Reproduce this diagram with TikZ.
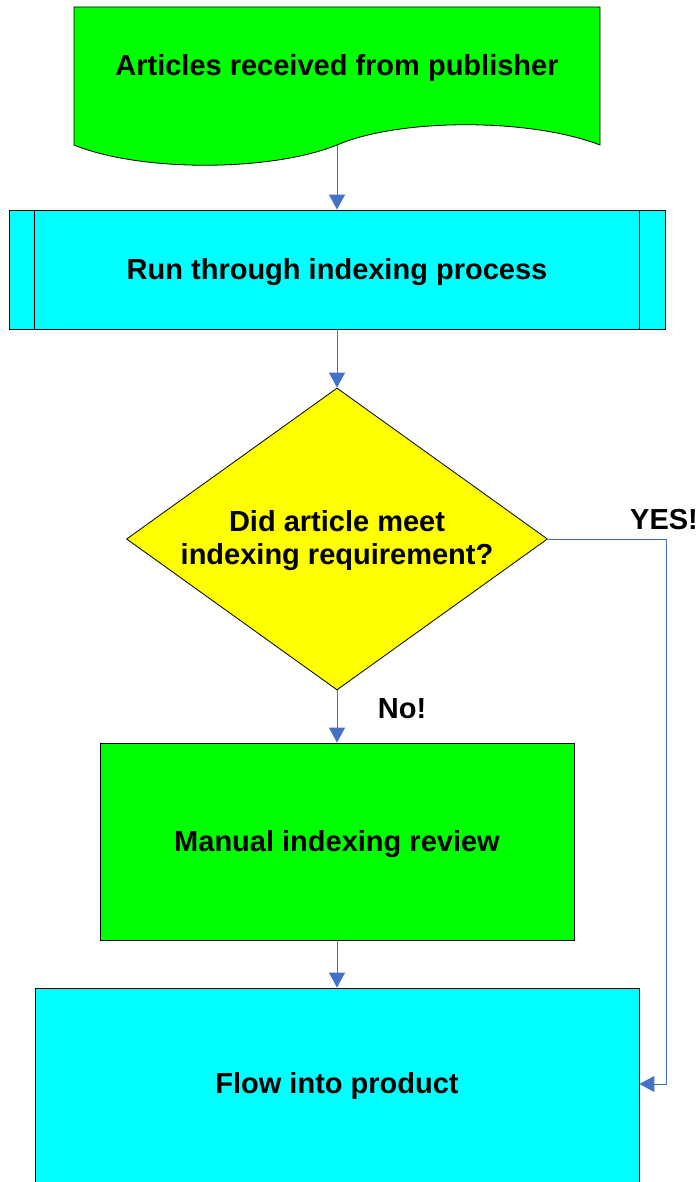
\documentclass[tikz,border=0pt]{standalone}
\usepackage{fontspec}
\setmainfont{Liberation Sans}
\usetikzlibrary{shapes.geometric,arrows.meta}
\definecolor{arrowblue}{RGB}{68,114,196}
\definecolor{fgreen}{RGB}{0,255,0}
\definecolor{fcyan}{RGB}{0,255,255}
\definecolor{fyellow}{RGB}{255,255,0}
\newcommand{\dnb}[2]{\raisebox{#1}[\height][\depth]{\begin{tabular}{@{}c@{}}#2\end{tabular}}}
\tikzset{
  lbl/.style={font=\fontsize{29}{33}\selectfont\bfseries, align=center},
  boxshape/.style={lbl, draw=black, line width=0.8pt, inner sep=0pt},
  conn/.style={draw=arrowblue, line width=1pt, -{Triangle[width=16pt,length=15pt]}},
}
\begin{document}
\begin{tikzpicture}[x=1pt,y=-1pt]
\useasboundingbox (0,0) rectangle (700,1182);
\clip (0,0) rectangle (700,1182);
% document shape
\draw[fill=fgreen, draw=black, line width=0.8pt]
  (74,7) -- (600,7) -- (600,145)
  .. controls (530,118) and (400,118) .. (337,145)
  .. controls (270,172) and (140,172) .. (74,145) -- cycle;
\node[lbl] (doc) at (337,68) {Articles received from publisher};
\coordinate (docb) at (337,145);
% predefined process
\node[boxshape, fill=fcyan, minimum width=656pt, minimum height=119pt] (proc) at (337,269.5) {\dnb{-3pt}{Run through indexing process}};
\draw[line width=0.8pt] ([xshift=26pt]proc.north west) -- ([xshift=26pt]proc.south west);
\draw[line width=0.8pt] ([xshift=-26pt]proc.north east) -- ([xshift=-26pt]proc.south east);
% decision
\node[boxshape, shape=diamond, shape aspect=1.394, fill=fyellow, minimum width=421pt, minimum height=302pt] (dec) at (337,539) {\dnb{-2pt}{Did article meet\\indexing requirement?}};
% manual review
\node[boxshape, fill=fgreen, minimum width=474pt, minimum height=197pt] (man) at (337,841.5) {\dnb{-3pt}{Manual indexing review}};
% flow into product
\node[boxshape, fill=fcyan, minimum width=604pt, minimum height=210pt] (flow) at (337,1093) {\dnb{6pt}{Flow into product}};
% labels
\node[lbl] (yes) at (664,520) {YES!};
\node[lbl] (no) at (402,709) {No!};
% connectors
\draw[conn] (docb) -- (proc.north);
\draw[conn] (proc.south) -- (dec.north);
\draw[conn] (dec.south) -- (man.north);
\draw[conn] (man.south) -- (flow.north);
\coordinate (yc) at (666,1084);
\draw[conn] (dec.east) -| (yc) -- (flow.east |- yc);
\end{tikzpicture}
\end{document}
